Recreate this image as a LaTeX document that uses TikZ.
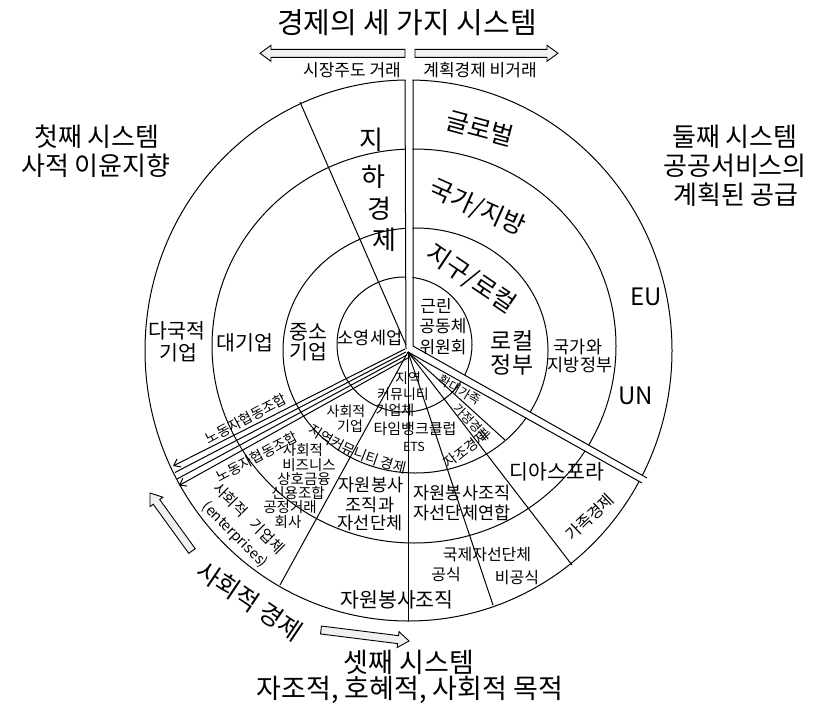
\documentclass[tikz,border=0pt]{standalone}
\usepackage{fontspec}
\setmainfont{Noto Sans CJK KR}
\usetikzlibrary{calc,arrows.meta,decorations.text}
\newcommand\fsz[1]{\fontsize{#1}{#1}\selectfont}
\newcommand\blkarrow[3]{%
  \coordinate (#3hb) at ($(#2)!11pt!(#1)$);
  \draw[blk] ($(#1)!4pt!90:(#2)$) -- ($(#3hb)!4pt!-90:(#1)$) -- ($(#3hb)!8pt!-90:(#1)$) -- (#2) -- ($(#3hb)!8pt!90:(#1)$) -- ($(#3hb)!4pt!90:(#1)$) -- ($(#1)!4pt!-90:(#2)$) -- cycle;}
\begin{document}
\begin{tikzpicture}[x=1pt,y=-1pt,
  ln/.style={line width=1pt,draw=black},
  lbl/.style={inner sep=0pt,text=black},
  blk/.style={draw=black,line width=0.9pt,fill=gray!12},
  tip/.style={-{Straight Barb[length=6pt,width=9pt]}}]
\useasboundingbox (0,0) rectangle (819,712);
\fill[white] (0,0) rectangle (819,712);
% key points
\coordinate (C) at (408,352);
\coordinate (V1t) at (405,80);  \coordinate (V1b) at (406,349);
\coordinate (V2t) at (413,80);  \coordinate (V2b) at (413,346);
\coordinate (R1e) at (647,478); \coordinate (R2e) at (642,483);
\coordinate (G1) at (300,102);  \coordinate (G2) at (406,345);
\coordinate (L1s) at (405,349); \coordinate (L1e) at (173,466);
\coordinate (L2s) at (406,352); \coordinate (L2e) at (175,472.5);
\coordinate (L3s) at (407,355); \coordinate (L3e) at (177,479);
\coordinate (L4s) at (408,358); \coordinate (L4e) at (179,485.5);
\coordinate (D1) at (280,585); \coordinate (D2) at (408,621);
\coordinate (D3) at (493,605); \coordinate (D4) at (572,565);
\coordinate (D5) at (505,440);
% rings
\draw[ln] (408.5,350.5) ellipse [x radius=263.5pt, y radius=270.5pt];
\draw[ln] (414,346) ellipse [x radius=202pt, y radius=197pt];
\draw[ln] (415.5,350.5) ellipse [x radius=132.5pt, y radius=122.5pt];
\draw[ln] (404.5,344.5) circle [radius=67.5pt];
% gaps between sectors
\fill[white] (405.6,70) -- (412.4,70) -- (412.4,346) -- (406.5,349) -- cycle;
\fill[white] (413,346) -- (651,480.3) -- (646,485.3) -- (408,351) -- cycle;
% separators
\draw[ln] (V1t) -- (V1b);
\draw[ln] (V2t) -- (V2b) -- (R1e);
\draw[ln] (C) -- (R2e);
\draw[ln] (G1) -- (G2);
\draw[ln,tip] (L1s) -- (L1e);
\draw[ln] (L2s) -- (L2e);
\draw[ln] (L3s) -- (L3e);
\draw[ln,tip] (L4s) -- (L4e);
\draw[ln] (C) -- (D1);
\draw[ln] (C) -- (D2);
\draw[ln] (C) -- (D3);
\draw[ln] (C) -- (D4);
\draw[ln] (C) -- (D5);
% block arrows
\coordinate (A1t) at (405,53.3); \coordinate (A1h) at (260,53.3);
\coordinate (A2t) at (415,53.3); \coordinate (A2h) at (558,53.3);
\coordinate (A3t) at (192,551); \coordinate (A3h) at (150,493);
\coordinate (A4t) at (321,630); \coordinate (A4h) at (409,641);
\blkarrow{A1t}{A1h}{a}
\blkarrow{A2t}{A2h}{b}
\blkarrow{A3t}{A3h}{c}
\blkarrow{A4t}{A4h}{d}
% headings
\node[lbl] (title) at (407,23) {\fsz{29}경제의 세 가지 시스템};
\node[lbl] (mkt) at (352,70) {\fsz{17}시장주도 거래};
\node[lbl] (pln) at (480,70) {\fsz{17}계획경제 비거래};
\node[lbl] (s1a) at (97,137) {\fsz{26}첫째 시스템};
\node[lbl] (s1b) at (96,166) {\fsz{26}사적 이윤지향};
\node[lbl] (s2a) at (735,137) {\fsz{26}둘째 시스템};
\node[lbl] (s2b) at (735,166) {\fsz{26}공공서비스의};
\node[lbl] (s2c) at (736,195) {\fsz{26}계획된 공급};
\node[lbl] (s3a) at (409,662) {\fsz{27}셋째 시스템};
\node[lbl] (s3b) at (410,690) {\fsz{27}자조적, 호혜적, 사회적 목적};
\node[lbl,rotate=-34] (soc) at (250,601) {\fsz{25}사회적 경제};
% second system
\node[lbl,rotate=-15] (glob) at (480,128) {\fsz{25}글로벌};
\node[lbl,rotate=-24] (natl) at (477,208) {\fsz{25}국가/지방};
\node[lbl,rotate=-34] (locl) at (471,279) {\fsz{25}지구/로컬};
\node[lbl] (nb1) at (436,306) {\fsz{17}근린};
\node[lbl] (nb2) at (443,326) {\fsz{17}공동체};
\node[lbl] (nb3) at (443,347) {\fsz{17}위원회};
\node[lbl] (lg1) at (512,341) {\fsz{23}로컬};
\node[lbl] (lg2) at (512,365) {\fsz{23}정부};
\node[lbl] (ng1) at (578,347) {\fsz{17.5}국가와};
\node[lbl] (ng2) at (580,365) {\fsz{17.5}지방정부};
\node[lbl] (eu) at (646,297) {\fsz{24}EU};
\node[lbl] (un) at (636,396) {\fsz{24}UN};
% first system
\node[lbl] (mn1) at (177,331) {\fsz{20.5}다국적};
\node[lbl] (mn2) at (178,353) {\fsz{20.5}기업};
\node[lbl] (big) at (245,343) {\fsz{20.5}대기업};
\node[lbl] (sm1) at (308,332) {\fsz{20.5}중소};
\node[lbl] (sm2) at (308,352) {\fsz{20.5}기업};
\node[lbl] (mic) at (370,338) {\fsz{17.5}소영세업};
\node[lbl] (ug1) at (371,140) {\fsz{26}지};
\node[lbl] (ug2) at (373,177) {\fsz{26}하};
\node[lbl] (ug3) at (379,209) {\fsz{26}경};
\node[lbl] (ug4) at (384,240) {\fsz{26}제};
% boundary
\node[lbl,rotate=28] (wc1) at (246,419) {\fsz{14}노동자협동조합};
\node[lbl,rotate=28] (wc2) at (257,457) {\fsz{14}노동자협동조합};
% third system
\node[lbl] (ce1) at (408,378) {\fsz{14}지역};
\node[lbl] (ce2) at (403,394) {\fsz{14}커뮤니티};
\node[lbl] (ce3) at (395,410) {\fsz{14}기업체};
\node[lbl] (se1) at (346,411) {\fsz{14}사회적};
\node[lbl] (se2) at (350,426) {\fsz{14}기업};
\node[lbl] (tb) at (415,429) {\fsz{15}타임뱅크클럽};
\node[lbl] (lets) at (414,447) {\fsz{12.5}ETS};
\path[decorate,decoration={text along path,text align=center,text={|\fsz{14}|지역커뮤니티 경제}}] (300,428) .. controls (330,448) and (365,466) .. (413,475);
\node[lbl] (sb1) at (303,450) {\fsz{14.5}사회적};
\node[lbl] (sb2) at (309,465) {\fsz{14.5}비즈니스};
\node[lbl] (sb3) at (304,479) {\fsz{14.5}상호금융};
\node[lbl] (sb4) at (298,493) {\fsz{14.5}신용조합};
\node[lbl] (sb5) at (290,507) {\fsz{14.5}공정거래};
\node[lbl] (sb6) at (288,522) {\fsz{14.5}회사};
\node[lbl,rotate=-45] (en1) at (249,518) {\fsz{15}사회적\hspace{10pt}기업체};
\node[lbl,rotate=-45] (en2) at (235,535) {\fsz{14.5}(enterprises)};
\node[lbl] (vc1) at (371,485) {\fsz{17.5}자원봉사};
\node[lbl] (vc2) at (370,505) {\fsz{17.5}조직과};
\node[lbl] (vc3) at (370,523) {\fsz{17.5}자선단체};
\node[lbl] (vf1) at (462,493) {\fsz{17.5}자원봉사조직};
\node[lbl] (vf2) at (462,513) {\fsz{17.5}자선단체연합};
\node[lbl] (dia) at (557,472) {\fsz{20.5}디아스포라};
\node[lbl,rotate=44] (fam) at (590,517) {\fsz{16}가족경제};
\node[lbl] (ic) at (487,555) {\fsz{16}국제자선단체};
\node[lbl] (fo) at (446,575) {\fsz{16}공식};
\node[lbl] (inf) at (517,578) {\fsz{16}비공식};
\node[lbl] (vo) at (397,600) {\fsz{20.5}자원봉사조직};
\node[lbl,rotate=38] (sh) at (466,449) {\fsz{14}자조경제};
\node[lbl,rotate=-30] (xf) at (460,390) {\fsz{12.5}확대가족};
\node[lbl,rotate=-45] (hh) at (472,422) {\fsz{12.5}가정경제};
\end{tikzpicture}
\end{document}
